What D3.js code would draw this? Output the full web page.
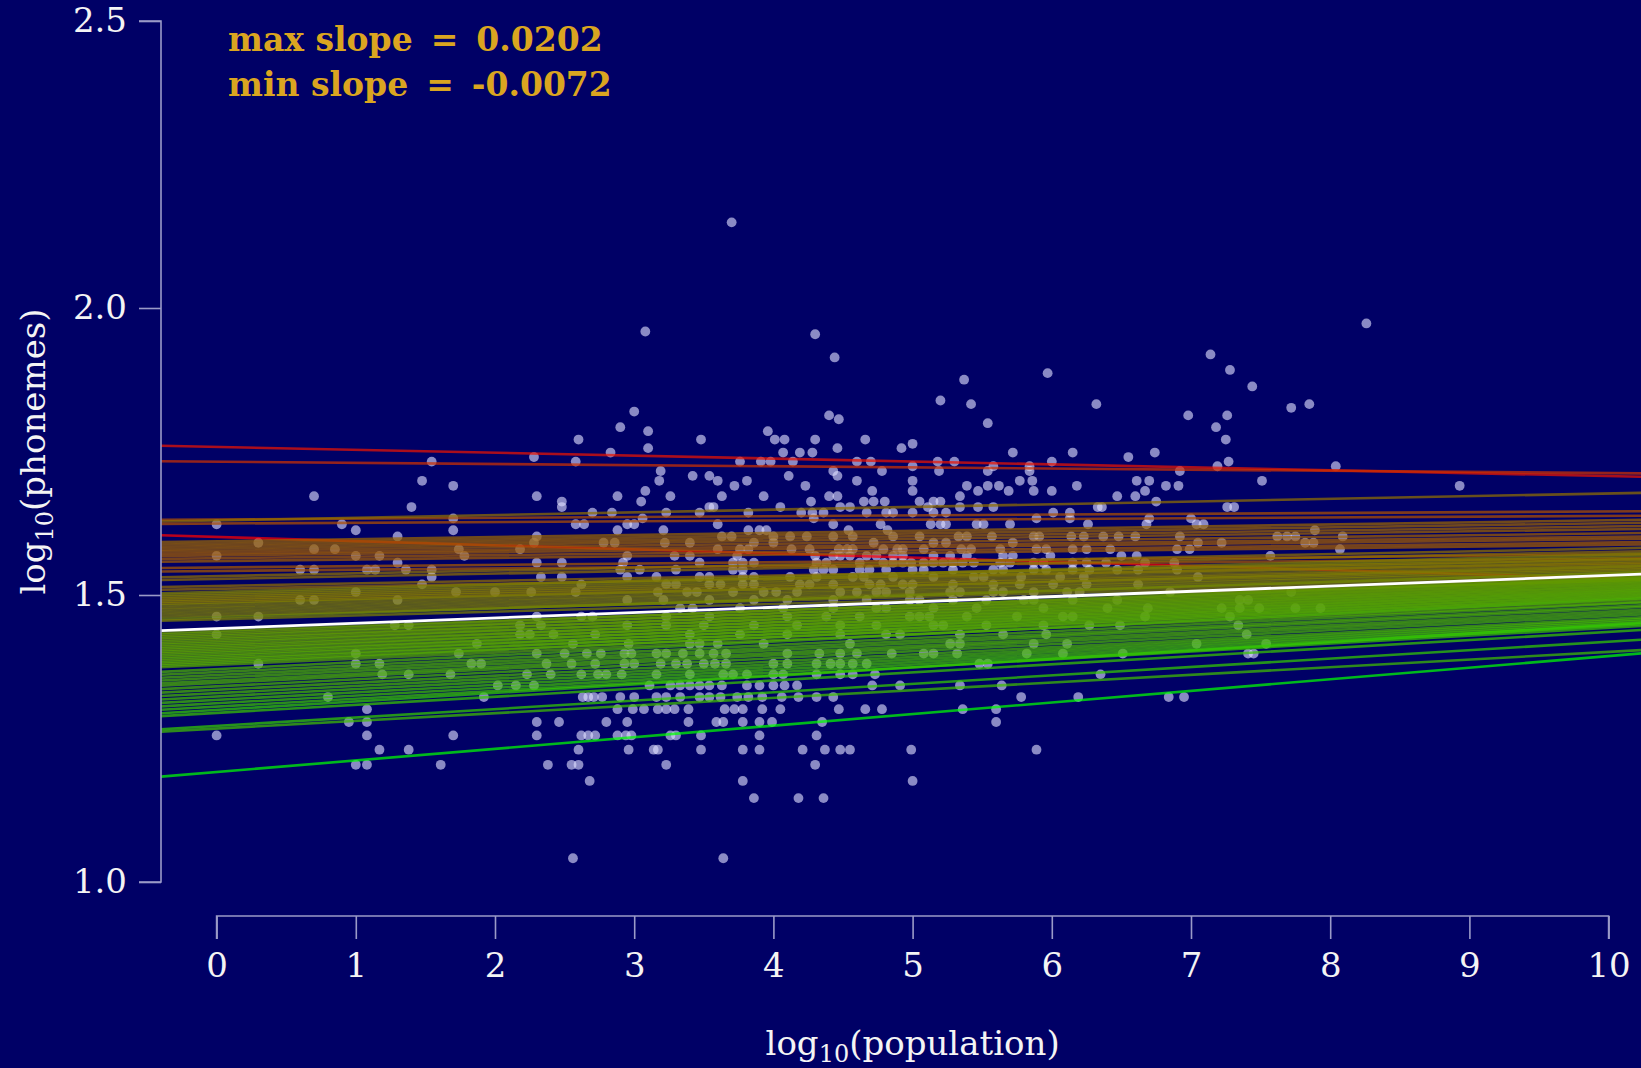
<!DOCTYPE html>
<html>
<head>
<meta charset="utf-8">
<script src="https://cdn.jsdelivr.net/npm/d3@7"></script>
<style>
  html, body { margin: 0; padding: 0; background: #000066; }
  svg { display: block; }
</style>
</head>
<body>
<svg id="chart" width="1641" height="1068"></svg>
<script>
// Axis ticks
const xTicks = [0, 1, 2, 3, 4, 5, 6, 7, 8, 9, 10];
const yTicks = [1.0, 1.5, 2.0, 2.5];

// Languages grouped by phoneme inventory size: [phonemes, log10(population) values]
const phonemeRows = [
  [141, [3.70]],
  [94, [8.26]],
  [91, [3.08]],
  [90, [4.30]],
  [83, [7.14]],
  [82, [4.44]],
  [78, [7.28]],
  [77, [5.97]],
  [75, [5.37]],
  [73, [7.44]],
  [69, [5.20]],
  [68, [5.42, 6.32, 7.85]],
  [67, [7.72]],
  [66, [3.00]],
  [65, [4.40, 6.98, 7.26]],
  [64, [4.47]],
  [63, [5.54]],
  [62, [2.90, 7.18]],
  [61, [3.10, 3.96]],
  [59, [2.60, 3.48, 4.01, 4.08, 4.30, 4.66, 7.25]],
  [58, [5.00]],
  [57, [3.10, 4.46, 4.92]],
  [56, [2.83, 4.07, 4.19, 4.28, 5.72, 6.15, 6.74]],
  [55, [2.28, 6.55]],
  [54, [1.545, 2.58, 3.76, 3.91, 3.98, 4.14, 4.60, 4.70, 5.18, 5.30, 6.00, 7.27]],
  [53, [5.00, 5.58, 5.84, 7.19, 8.04]],
  [52, [3.19, 4.43, 4.78, 5.19, 5.54, 5.84, 6.92]],
  [51, [3.42, 3.54, 4.11, 4.46]],
  [50, [1.476, 3.18, 3.60, 3.81, 4.60, 5.00, 5.77, 5.86, 6.61, 6.70, 7.51]],
  [49, [1.70, 3.72, 4.23, 5.39, 5.54, 5.62, 6.18, 6.82, 6.91, 8.93]],
  [48, [3.08, 4.71, 5.00, 5.47, 5.69, 5.87, 6.00, 6.67]],
  [47, [0.70, 2.30, 2.88, 3.26, 3.63, 3.93, 4.40, 4.46, 5.34, 6.47, 6.60]],
  [46, [2.48, 3.05, 4.27, 4.65, 4.72, 4.80, 5.05, 5.15, 5.20, 6.75]],
  [45, [1.40, 2.48, 3.54, 3.57, 4.05, 4.48, 4.55, 5.11, 5.34, 5.47, 5.58, 6.33, 6.36, 7.26, 7.31]],
  [44, [2.70, 2.84, 3.23, 3.47, 3.82, 4.20, 4.28, 4.36, 4.67, 4.81, 4.86, 5.00, 5.15, 5.24, 6.01, 6.13]],
  [43, [1.70, 3.06, 4.29, 5.89, 6.13, 6.70, 7.00]],
  [42, [0.0, 0.90, 2.58, 2.64, 2.95, 3.00, 3.60, 4.43, 4.77, 5.13, 5.20, 5.24, 5.46, 5.51, 5.70, 6.26, 6.68, 7.04, 7.09]],
  [41, [1.00, 1.70, 2.88, 3.21, 3.82, 3.90, 3.95, 4.54, 4.82, 7.89]],
  [40, [1.30, 2.30, 3.63, 3.70, 4.00, 4.12, 4.24, 4.43, 4.57, 4.86, 5.05, 5.33, 5.39, 5.57, 5.87, 5.91, 6.14, 6.23, 6.37, 6.48, 6.60, 6.92, 7.62, 7.69, 7.75, 8.09]],
  [39, [0.30, 2.28, 2.78, 2.86, 3.22, 3.40, 3.86, 4.00, 4.72, 5.15, 5.24, 5.72, 7.05, 7.22, 7.82, 7.88]],
  [38, [0.70, 0.85, 1.74, 2.18, 3.60, 3.76, 3.82, 4.13, 4.26, 4.47, 4.53, 4.57, 4.79, 4.89, 4.93, 5.08, 5.35, 5.42, 5.63, 5.89, 5.96, 6.15, 6.25, 6.42, 6.90, 6.99, 8.07]],
  [37, [0.0, 1.00, 1.17, 1.78, 2.95, 3.29, 3.40, 3.74, 4.30, 4.43, 4.48, 4.55, 4.67, 4.74, 4.86, 4.93, 5.15, 5.27, 5.39, 5.65, 5.72, 5.99, 6.50, 6.61, 7.57]],
  [36, [1.30, 2.30, 2.48, 2.92, 3.47, 3.71, 3.78, 3.86, 4.31, 4.38, 4.62, 4.79, 4.86, 4.93, 4.99, 5.08, 5.15, 5.22, 5.29, 5.36, 5.44, 5.63, 5.70, 5.87, 5.94, 6.15, 6.25, 6.39, 6.67, 6.88]],
  [35, [0.60, 0.70, 1.08, 1.14, 1.36, 1.545, 2.90, 3.04, 3.30, 3.71, 3.78, 4.29, 4.36, 4.43, 4.62, 4.69, 4.81, 5.00, 5.08, 5.29, 5.58, 5.65, 5.87, 5.96, 6.15, 6.27, 6.47, 6.62, 6.90]],
  [34, [1.545, 2.33, 2.48, 2.95, 3.16, 3.47, 3.54, 3.78, 3.86, 4.12, 4.31, 4.57, 4.65, 4.86, 5.15, 5.44, 5.51, 5.78, 6.06, 6.23, 7.05]],
  [33, [1.476, 2.62, 3.23, 3.30, 3.54, 3.62, 3.78, 3.86, 4.19, 4.26, 4.43, 4.69, 4.77, 4.93, 5.00, 5.29, 5.58, 5.77, 6.01, 6.25, 6.62]],
  [32, [1.00, 1.72, 2.00, 2.26, 2.58, 3.17, 3.38, 3.45, 3.71, 3.93, 4.02, 4.17, 4.48, 4.60, 4.74, 4.81, 4.98, 5.27, 5.34, 5.58, 5.65, 5.87, 6.11, 6.20, 6.85, 7.72]],
  [31, [0.60, 0.70, 1.30, 2.95, 3.21, 3.54, 3.86, 4.10, 4.43, 4.67, 4.98, 5.05, 5.29, 5.53, 5.80, 5.87, 6.15, 6.47, 7.35, 7.41]],
  [30, [3.33, 3.42, 3.76, 4.07, 4.43, 4.74, 4.81, 5.15, 5.46, 5.94, 6.40, 6.69, 7.22, 7.35, 7.49, 7.75, 7.93]],
  [29, [0.0, 0.30, 2.30, 2.62, 2.70, 3.23, 3.54, 4.10, 4.38, 4.62, 4.98, 5.05, 5.12, 5.39, 5.75, 6.08, 6.15, 6.67, 7.28]],
  [28, [1.28, 1.38, 2.18, 2.33, 2.95, 3.23, 3.50, 3.86, 4.17, 4.48, 4.74, 5.15, 5.22, 5.53, 5.94, 6.27, 6.49, 7.34]],
  [27, [0.0, 2.18, 2.25, 2.42, 2.72, 3.40, 3.76, 4.10, 4.48, 4.81, 4.91, 5.34, 5.65, 5.96, 7.40]],
  [26, [1.87, 2.56, 2.96, 3.40, 3.47, 3.60, 3.93, 4.55, 5.27, 5.34, 5.87, 6.11, 7.04, 7.54]],
  [25, [1.00, 1.74, 2.30, 2.50, 2.66, 2.76, 2.93, 2.98, 3.16, 3.23, 3.35, 3.47, 3.57, 3.66, 4.10, 4.33, 4.48, 4.60, 4.85, 5.08, 5.15, 5.32, 5.82, 6.08, 6.51, 7.41, 7.45]],
  [24, [0.30, 1.00, 1.17, 1.83, 1.90, 2.37, 2.55, 2.72, 2.93, 3.00, 3.19, 3.30, 3.38, 3.50, 3.58, 3.66, 4.00, 4.10, 4.31, 4.41, 4.48, 4.57, 4.67, 5.48, 5.54]],
  [23, [1.19, 1.38, 1.68, 2.23, 2.40, 2.62, 2.74, 2.80, 2.91, 3.16, 3.40, 3.64, 3.71, 3.81, 4.00, 4.07, 4.31, 4.48, 4.57, 4.73, 6.35]],
  [22, [2.02, 2.15, 2.28, 3.11, 3.26, 3.33, 3.40, 3.47, 3.54, 3.63, 3.81, 3.90, 4.00, 4.08, 4.17, 4.71, 4.91, 5.34, 5.64]],
  [21, [0.80, 1.92, 2.63, 2.67, 2.71, 2.77, 2.90, 3.00, 3.16, 3.23, 3.33, 3.47, 3.54, 3.62, 3.74, 3.82, 3.92, 4.06, 4.18, 4.31, 4.43, 5.78, 6.19, 6.84, 6.95]],
  [20, [1.08, 2.88, 2.99, 3.07, 3.17, 3.23, 3.29, 3.39, 3.65, 3.72, 3.78, 3.92, 4.05, 4.47, 4.66, 4.78, 5.36, 5.60]],
  [19, [0.95, 1.08, 2.30, 2.46, 2.80, 2.95, 3.39, 3.59, 3.64, 3.78, 3.90, 3.99, 4.35, 5.60]],
  [18, [0.0, 1.08, 1.70, 2.30, 2.62, 2.67, 2.72, 2.88, 2.94, 2.98, 3.26, 3.30, 3.48, 3.90, 4.31]],
  [17, [1.17, 1.38, 2.60, 2.96, 3.14, 3.17, 3.48, 3.78, 3.90, 4.21, 4.37, 4.48, 4.55, 4.99, 5.89]],
  [16, [1.00, 1.08, 1.61, 2.38, 2.55, 2.60, 3.23, 4.30]],
  [15, [2.68, 3.78, 5.00]],
  [14, [3.86, 4.18, 4.36]],
  [11, [2.56, 3.64]]
];

// Sampled regression lines: intercepts and slopes
const lineIntercepts = [
  1.7580, 1.7322, 1.6316, 1.6299, 1.6245, 1.6011,
  1.5935, 1.5894, 1.5854, 1.5813, 1.5772, 1.5731, 1.5691, 1.5641, 1.5591,
  1.5479, 1.5419, 1.5329, 1.5279, 1.5158, 1.5108,
  1.5056, 1.5026, 1.4995, 1.4964, 1.4934, 1.4904, 1.4873,
  1.4846, 1.4805, 1.4766, 1.4726, 1.4686, 1.4646, 1.4611, 1.4577,
  1.4375, 1.4348, 1.4316, 1.4289, 1.4257, 1.4230, 1.4198, 1.4171, 1.4138, 1.4111,
  1.4079, 1.4052, 1.4020, 1.3993, 1.3961, 1.3934, 1.3901, 1.3874, 1.3842, 1.3815, 1.3783,
  1.3708, 1.3657, 1.3607, 1.3558, 1.3508, 1.3468,
  1.3409, 1.3349, 1.3290, 1.3232, 1.3173, 1.3114, 1.3055, 1.2999, 1.2946,
  1.2719, 1.2673, 1.1916
];
const lineSlopes = [
  -0.00508, -0.00198, 0.00141, 0.00470, 0.00132, -0.00720,
  0.00367, 0.00357, 0.00339, 0.00329, 0.00301, 0.00282, 0.00282, 0.00273, 0.00282,
  0.00226, 0.00216, 0.00480, 0.00470, 0.00452, 0.00442,
  0.00649, 0.00640, 0.00621, 0.00611, 0.00593, 0.00593, 0.00583,
  0.00640, 0.00630, 0.00640, 0.00640, 0.00640, 0.00640, 0.00771, 0.00668,
  0.00884, 0.00950, 0.00903, 0.00978, 0.00922, 0.00997, 0.00941, 0.01016, 0.00960, 0.01035,
  0.00978, 0.01054, 0.00997, 0.01072, 0.01016, 0.01091, 0.01035, 0.01110, 0.01054, 0.01129, 0.01072,
  0.01204, 0.01185, 0.01185, 0.01204, 0.01204, 0.01204,
  0.01223, 0.01232, 0.01261, 0.01289, 0.01317, 0.01345, 0.01373, 0.01477, 0.01411,
  0.01467, 0.01336, 0.02020
];

// Mean fit
const fitIntercept = 1.4415;
const fitSlope = 0.00927;

// Annotation parts: label, sign, value
const slopeLabels = [
  ["max slope", "=", "0.0202"],
  ["min slope", "=", "-0.0072"]
];
const slopeExtent = [-0.0072, 0.0202];

const W = 1641, H = 1068;
const svg = d3.select("#chart");
const serif = "'DejaVu Serif', 'Liberation Serif', serif";

svg.append("rect").attr("width", W).attr("height", H).attr("fill", "#000066");

const x = d3.scaleLinear().domain([0, 10]).range([216.6, 1608.6]);
const y = d3.scaleLinear().domain([1.0, 2.5]).range([882, 21]);

const axisX0 = 161;      // position of the vertical axis
const axisY0 = 916;      // position of the horizontal axis

// points
const points = phonemeRows.flatMap(([n, xs]) => xs.map(v => ({ x: v, y: Math.log10(n) })));
svg.append("g")
  .selectAll("circle")
  .data(points)
  .join("circle")
  .attr("cx", d => x(d.x))
  .attr("cy", d => y(d.y))
  .attr("r", 4.9)
  .attr("fill", "rgba(222,222,255,0.62)");

// lines span from the vertical axis to the right edge
const xStart = x.invert(axisX0), xEnd = x.invert(W);
const colour = d3.scaleLinear().domain(slopeExtent).range(["#ff0000", "#00ff00"])
  .interpolate(d3.interpolateRgb).clamp(true);

const lines = lineIntercepts.map((a, i) => ({ a, b: lineSlopes[i] }));
svg.append("g")
  .selectAll("line")
  .data(lines)
  .join("line")
  .attr("x1", x(xStart)).attr("x2", x(xEnd))
  .attr("y1", d => y(d.a + d.b * xStart))
  .attr("y2", d => y(d.a + d.b * xEnd))
  .attr("stroke", d => colour(d.b))
  .attr("stroke-opacity", 0.72)
  .attr("stroke-width", 2.6);

svg.append("line")
  .attr("x1", x(xStart)).attr("x2", x(xEnd))
  .attr("y1", y(fitIntercept + fitSlope * xStart))
  .attr("y2", y(fitIntercept + fitSlope * xEnd))
  .attr("stroke", "#ffffff")
  .attr("stroke-width", 2.8);

// axes
const axisColour = "#9a9ac8";
const yAxis = d3.axisLeft(y).tickValues(yTicks).tickSize(22).tickPadding(12)
  .tickFormat(d3.format(".1f"));
const gy = svg.append("g").attr("transform", `translate(${axisX0},0)`).call(yAxis);
const xAxis = d3.axisBottom(x).tickValues(xTicks).tickSize(23).tickPadding(14)
  .tickFormat(d3.format("d"));
const gx = svg.append("g").attr("transform", `translate(0,${axisY0})`).call(xAxis);

[gx, gy].forEach(g => {
  g.select(".domain").attr("stroke", axisColour).attr("stroke-width", 1.6);
  g.selectAll(".tick line").attr("stroke", axisColour).attr("stroke-width", 1.6);
  g.selectAll(".tick text")
    .attr("fill", "#f4f4f4")
    .style("font-family", serif)
    .style("font-size", "34px");
});
gy.select(".domain").attr("d", `M-22,${y(2.5)}H0V${y(1.0)}H-22`);
gx.select(".domain").attr("d", `M${x(0)},23V0H${x(10)}V23`);

// axis titles
const xt = svg.append("text")
  .attr("x", (x(0) + x(10)) / 2).attr("y", 1055)
  .attr("text-anchor", "middle")
  .attr("fill", "#f4f4f4")
  .style("font-family", serif).style("font-size", "34px");
xt.append("tspan").text("log");
xt.append("tspan").text("10").attr("dy", 7).style("font-size", "24px");
xt.append("tspan").text("(population)").attr("dy", -7);

const yt = svg.append("text")
  .attr("transform", `translate(45,${(y(1.0) + y(2.5)) / 2}) rotate(-90)`)
  .attr("text-anchor", "middle")
  .attr("fill", "#f4f4f4")
  .style("font-family", serif).style("font-size", "34px");
yt.append("tspan").text("log");
yt.append("tspan").text("10").attr("dy", 8).style("font-size", "24px");
yt.append("tspan").text("(phonemes)").attr("dy", -8);

// slope annotation
const ann = svg.append("g")
  .selectAll("text")
  .data(slopeLabels)
  .join("text")
  .attr("x", 228)
  .attr("y", (d, i) => 51 + i * 45)
  .attr("fill", "#daa520")
  .style("font-family", serif)
  .style("font-weight", "bold")
  .style("font-size", "33px");
ann.append("tspan").text(d => d[0]);
ann.append("tspan").attr("dx", 18).text(d => d[1]);
ann.append("tspan").attr("dx", 18).text(d => d[2]);
</script>
</body>
</html>
